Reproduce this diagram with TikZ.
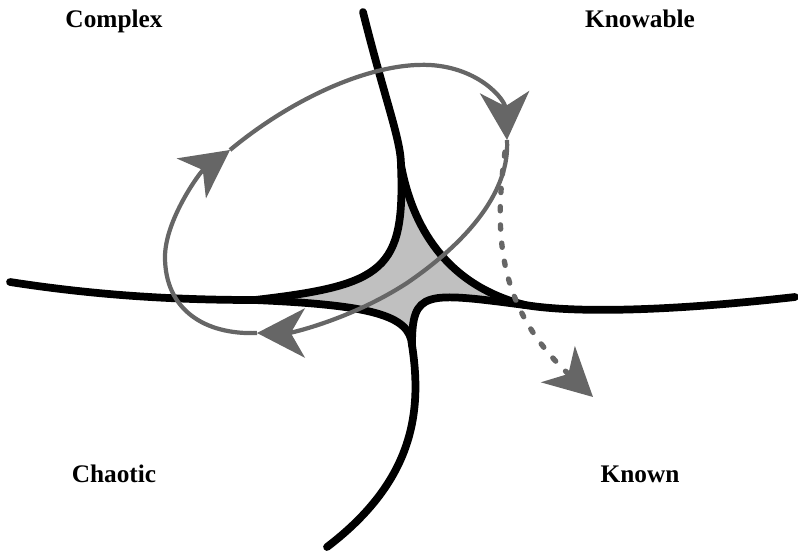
\documentclass[tikz,border=0pt]{standalone}
\usepackage{fontspec}
\setmainfont{Liberation Serif}
\usetikzlibrary{arrows.meta}
\definecolor{LoopGray}{HTML}{666666}
\definecolor{ZoneGray}{HTML}{C0C0C0}

\begin{document}
\begin{tikzpicture}[x=0.025cm,y=-0.025cm,
  >={Stealth[length=34pt,width=35pt,inset=10pt]},
  font=\fontsize{18}{22}\selectfont\bfseries,
  border/.style={line width=5.5pt,line cap=round,line join=round},
  cyclearrow/.style={->,line width=3pt,LoopGray},
  collapse/.style={->,line width=3.8pt,LoopGray,line cap=round,dash pattern=on 3pt off 10pt},
  zonelabel/.style={anchor=base}]
  \useasboundingbox (0,0) rectangle (798,553);
  % cusps of the central zone
  \coordinate (T) at (401,165);
  \coordinate (L) at (255,300);
  \coordinate (R) at (525,305);
  \coordinate (B) at (412,345);
  \fill[ZoneGray] (T) .. controls (412,225) and (445,285) .. (R)
    .. controls (425,292) and (412,290) .. (B)
    .. controls (410,315) and (370,305) .. (L)
    .. controls (385,285) and (405,270) .. (T);
  % boundaries
  \draw[border] (363,12) .. controls (385,100) and (401,140) .. (T);
  \draw[border] (10,282) .. controls (100,296) and (180,300) .. (L);
  \draw[border] (R) .. controls (580,314) and (680,310) .. (795,297);
  \draw[border] (B) .. controls (422,410) and (415,480) .. (327,547);
  \draw[border] (T) .. controls (405,270) and (385,285) .. (L);
  \draw[border] (T) .. controls (412,225) and (445,285) .. (R);
  \draw[border] (B) .. controls (410,315) and (370,305) .. (L);
  \draw[border] (B) .. controls (412,290) and (425,292) .. (R);
  % the cycle
  \coordinate (c1) at (257,333);
  \coordinate (c2) at (230,150);
  \coordinate (c3) at (507,140);
  \draw[cyclearrow] (c1) .. controls (205,335) and (165,310) .. (165,257)
    .. controls (165,220) and (200,172) .. (c2);
  \draw[cyclearrow] (c2) .. controls (290,100) and (370,62) .. (430,65)
    .. controls (480,68) and (505,100) .. (c3);
  \draw[cyclearrow] (c3) .. controls (510,190) and (470,240) .. (407,283)
    .. controls (350,320) and (290,333) .. (c1);
  % collapse
  \coordinate (d1) at (505,152);
  \coordinate (d2) at (593,397);
  \draw[collapse] (d1) .. controls (493,240) and (500,310) .. (d2);
  % zones
  \node[zonelabel] (complex) at (114,27) {Complex};
  \node[zonelabel] (knowable) at (640,27) {Knowable};
  \node[zonelabel] (chaotic) at (114,482) {Chaotic};
  \node[zonelabel] (known) at (640,482) {Known};
\end{tikzpicture}
\end{document}
